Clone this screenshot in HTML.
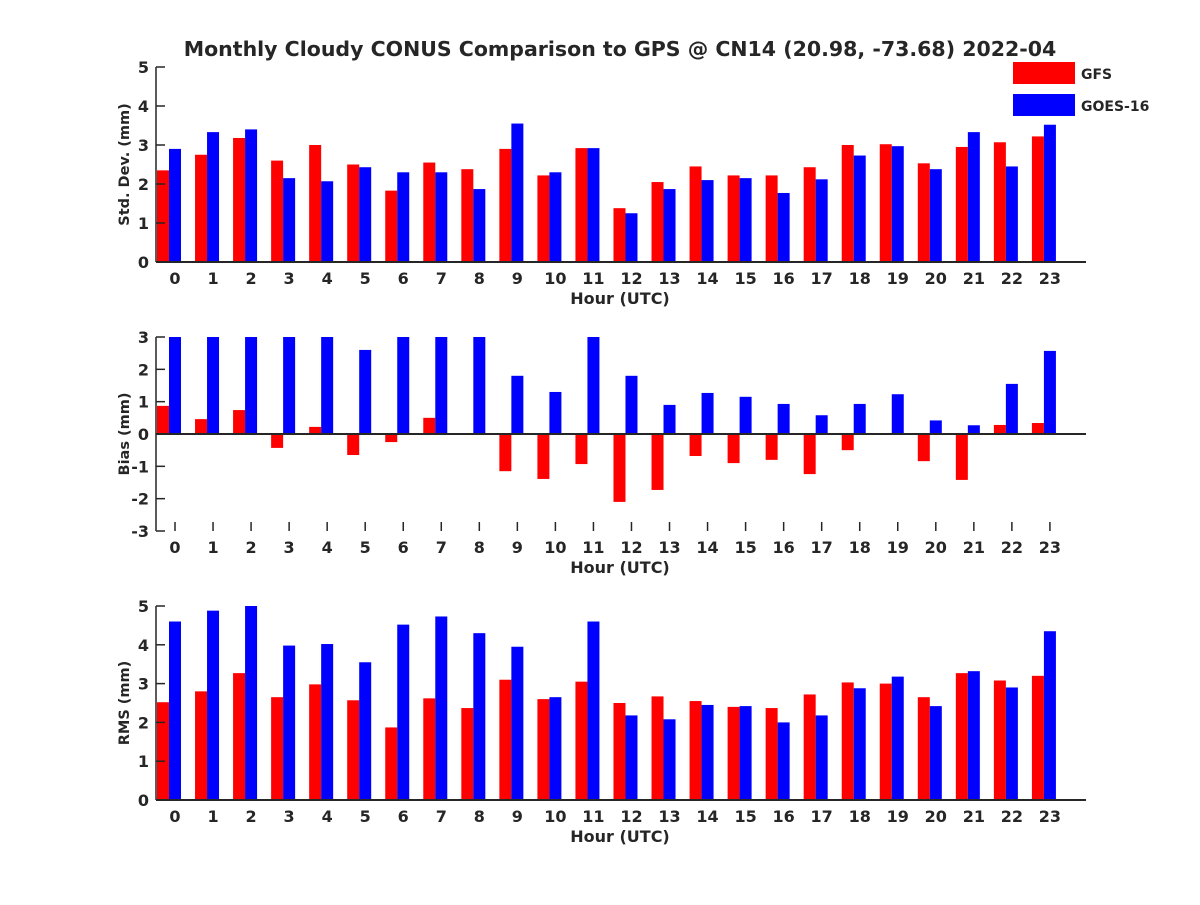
<!DOCTYPE html>
<html><head><meta charset="utf-8"><style>
body{margin:0;background:#fff}
svg text{font-family:"DejaVu Sans","Liberation Sans",sans-serif;font-weight:bold;fill:#262626}
</style></head><body>
<svg id="c" width="1200" height="900" xmlns="http://www.w3.org/2000/svg">
<text x="620" y="56" text-anchor="middle" font-size="20.5">Monthly Cloudy CONUS Comparison to GPS @ CN14 (20.98, -73.68) 2022-04</text>
<g>
<rect x="1013" y="62" width="62" height="22" fill="#f00"/>
<text x="1081" y="79" font-size="14">GFS</text>
<rect x="1013" y="94" width="62" height="22" fill="#00f"/>
<text x="1081" y="111" font-size="14">GOES-16</text>
</g>
</svg>
<script>
const hours=[0,1,2,3,4,5,6,7,8,9,10,11,12,13,14,15,16,17,18,19,20,21,22,23];
const stdGFS=[2.35,2.75,3.18,2.6,3.0,2.5,1.83,2.55,2.38,2.9,2.22,2.92,1.38,2.05,2.45,2.22,2.22,2.43,3.0,3.02,2.53,2.95,3.07,3.22];
const stdGOES=[2.9,3.33,3.4,2.15,2.07,2.43,2.3,2.3,1.87,3.55,2.3,2.92,1.25,1.87,2.1,2.15,1.77,2.12,2.73,2.97,2.38,3.33,2.45,3.52];
const biasGFS=[0.87,0.46,0.74,-0.43,0.22,-0.65,-0.25,0.5,0.02,-1.15,-1.39,-0.93,-2.1,-1.73,-0.68,-0.9,-0.8,-1.24,-0.5,0,-0.84,-1.42,0.28,0.34];
const biasGOES=[3.2,3.2,3.2,3.2,3.2,2.6,3.2,3.2,3.2,1.8,1.3,3.2,1.8,0.9,1.27,1.15,0.93,0.58,0.93,1.23,0.42,0.27,1.55,2.57];
const rmsGFS=[2.52,2.8,3.27,2.65,2.98,2.57,1.87,2.62,2.37,3.1,2.6,3.05,2.5,2.67,2.55,2.4,2.37,2.72,3.03,3.0,2.65,3.27,3.08,3.2];
const rmsGOES=[4.6,4.88,5.0,3.98,4.02,3.55,4.52,4.73,4.3,3.95,2.65,4.6,2.18,2.08,2.45,2.42,2.0,2.18,2.88,3.18,2.42,3.32,2.9,4.35];
const stdTicks=[0,1,2,3,4,5];
const biasTicks=[-3,-2,-1,0,1,2,3];
const rmsTicks=[0,1,2,3,4,5];
const NS='http://www.w3.org/2000/svg';
const svg=document.getElementById('c');
function mk(t,a,p){const e=document.createElementNS(NS,t);for(const k in a)e.setAttribute(k,a[k]);(p||svg).appendChild(e);return e;}
const X0=156,X1=1086;
function xs(h){return 175+h*38.04;}
function panel(name,top,bot,ymin,ymax,ticks,ylabel,g1,g2){
  const g=mk('g',{});
  
  
  const ys=v=>bot-(Math.max(ymin,Math.min(ymax,v))-ymin)/(ymax-ymin)*(bot-top);
  const y0=ys(Math.max(ymin,0));
  hours.forEach((h,i)=>{
    const a=ys(g1[i]),b=ys(g2[i]);
    const r=mk('rect',{x:xs(h)-18,y:Math.min(a,y0),width:12,height:Math.abs(y0-a),fill:'#f00'},g);
    
    
    const q=mk('rect',{x:xs(h)-6,y:Math.min(b,y0),width:12,height:Math.abs(y0-b),fill:'#00f'},g);
    
    
    const t=mk('text',{x:xs(h),y:bot+22,'text-anchor':'middle','font-size':16},g);
    t.textContent=h;
    
    
  });
  mk('line',{x1:X0,y1:y0,x2:X1,y2:y0,stroke:'#262626','stroke-width':2},g);
  mk('line',{x1:X0,y1:top,x2:X0,y2:bot,stroke:'#262626','stroke-width':1.5},g);
  ticks.forEach(v=>{
    const y=ys(v);
    mk('line',{x1:X0,y1:y,x2:X0+9,y2:y,stroke:'#262626','stroke-width':1.5},g);
    const t=mk('text',{x:X0-7,y:y+6,'text-anchor':'end','font-size':16},g);
    t.textContent=v;
    
    
  });
  if(ymin<0){hours.forEach(h=>mk('line',{x1:xs(h),y1:bot,x2:xs(h),y2:bot-9,stroke:'#262626','stroke-width':1.5},g));}
  const xl=mk('text',{x:620,y:bot+42,'text-anchor':'middle','font-size':16},g);
  xl.textContent='Hour (UTC)';
  
  
  const cy=(top+bot)/2;
  const yl=mk('text',{x:129,y:cy,'text-anchor':'middle','font-size':14.5,transform:'rotate(-90 129 '+cy+')'},g);
  yl.textContent=ylabel;
  
  
}
panel('std',67,262,0,5,stdTicks,'Std. Dev. (mm)',stdGFS,stdGOES);
panel('bias',337,531,-3,3,biasTicks,'Bias (mm)',biasGFS,biasGOES);
panel('rms',606,800,0,5,rmsTicks,'RMS (mm)',rmsGFS,rmsGOES);
</script>
</body></html>
